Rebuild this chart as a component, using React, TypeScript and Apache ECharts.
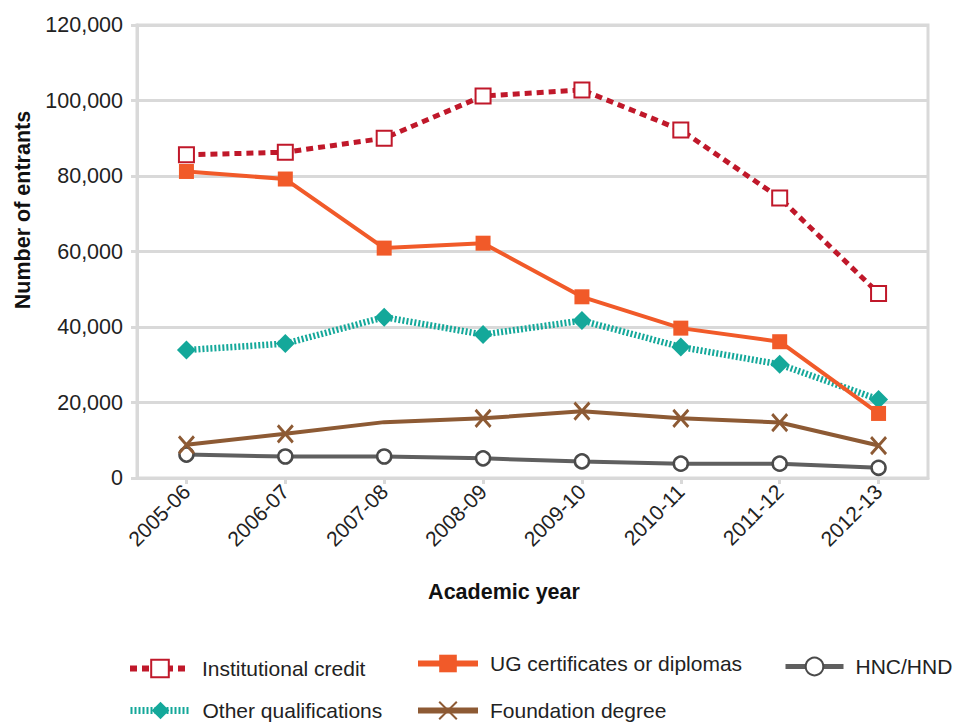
import React, { useEffect, useRef } from "react";
import * as echarts from "echarts";

const years = ["2005-06", "2006-07", "2007-08", "2008-09", "2009-10", "2010-11", "2011-12", "2012-13"];
const institutionalCredit = [85600, 86300, 90000, 101200, 102800, 92200, 74200, 48900];
const ugCertificates = [81200, 79200, 60900, 62200, 48000, 39700, 36100, 17100];
const otherQualifications = [33900, 35600, 42600, 38000, 41700, 34700, 30100, 20800];
const foundationDegree = [8800, 11700, 14800, 15800, 17700, 15800, 14700, 8600];
const hncHnd = [6200, 5700, 5700, 5200, 4400, 3800, 3800, 2700];
const yTicks = [0, 20000, 40000, 60000, 80000, 100000, 120000];

const FONT = "'Liberation Sans', Arial, Helvetica, sans-serif";
const GRID_C = "#d9d9d9";
const X_PATH = "path://M0,0L10,12M10,0L0,12";

export default function App() {
  const ref = useRef<HTMLDivElement>(null);
  useEffect(() => {
    if (!ref.current) return;
    const chart = echarts.init(ref.current, undefined, { renderer: "svg" });
    const legendText = { fontFamily: FONT, fontSize: 21, color: "#222", padding: [0, 0, 0, 7] };
    const mkLegend = (name: string, left: number, top: number, w: number, lw: number) => ({
      data: [name],
      left,
      top,
      itemWidth: w,
      itemHeight: 22,
      lineStyle: { width: lw },
      textStyle: legendText,
      selectedMode: false,
    });
    chart.setOption({
      animation: false,
      textStyle: { fontFamily: FONT },
      grid: {
        left: 137,
        right: 31,
        top: 25,
        bottom: 244,
        show: true,
        borderColor: GRID_C,
        borderWidth: 3,
      },
      legend: [
        mkLegend("Institutional credit", 122, 653, 60, 6),
        mkLegend("UG certificates or diplomas", 410, 648, 60, 6),
        mkLegend("HNC/HND", 778, 651, 58, 5),
        mkLegend("Other qualifications", 122, 695, 60, 7),
        mkLegend("Foundation degree", 410, 695, 60, 6),
      ],
      graphic: [
        {
          type: "text",
          x: 23,
          y: 210,
          rotation: Math.PI / 2,
          style: {
            text: "Number of entrants",
            font: `bold 21.5px ${FONT}`,
            fill: "#111",
            textAlign: "center",
            textVerticalAlign: "middle",
          },
        },
        {
          type: "text",
          x: 504,
          y: 592,
          style: {
            text: "Academic year",
            font: `bold 21.5px ${FONT}`,
            fill: "#111",
            textAlign: "center",
            textVerticalAlign: "middle",
          },
        },
      ],
      xAxis: {
        type: "category",
        data: years,
        boundaryGap: true,
        axisLine: { show: true, lineStyle: { color: GRID_C, width: 3 } },
        axisTick: { show: true, alignWithLabel: true, length: 6, lineStyle: { color: GRID_C, width: 3 } },
        axisLabel: { rotate: 45, fontSize: 21, color: "#222", fontFamily: FONT, margin: 10 },
        splitLine: { show: false },
      },
      yAxis: {
        type: "value",
        min: yTicks[0],
        max: yTicks[yTicks.length - 1],
        interval: 20000,
        axisLine: { show: true, lineStyle: { color: GRID_C, width: 3 } },
        axisTick: { show: true, length: 6, lineStyle: { color: GRID_C, width: 3 } },
        axisLabel: {
          fontSize: 21.5,
          color: "#222",
          fontFamily: FONT,
          margin: 14,
          formatter: (v: number) => v.toLocaleString("en-US"),
        },
        splitLine: { show: true, lineStyle: { color: GRID_C, width: 3 } },
      },
      series: [
        {
          name: "Institutional credit",
          type: "line",
          data: institutionalCredit,
          symbol: "rect",
          symbolSize: 15,
          lineStyle: { color: "#c0182a", width: 5, type: [7, 5] },
          itemStyle: { color: "#fff", borderColor: "#c0182a", borderWidth: 2 },
          z: 5,
        },
        {
          name: "UG certificates or diplomas",
          type: "line",
          data: ugCertificates,
          symbol: "rect",
          symbolSize: 15,
          lineStyle: { color: "#f15a29", width: 4 },
          itemStyle: { color: "#f15a29" },
          z: 4,
        },
        {
          name: "HNC/HND",
          type: "line",
          data: hncHnd,
          symbol: "circle",
          symbolSize: 14,
          lineStyle: { color: "#5f5f5f", width: 4 },
          itemStyle: { color: "#fff", borderColor: "#4a4a4a", borderWidth: 2.5 },
          z: 2,
        },
        {
          name: "Other qualifications",
          type: "line",
          data: otherQualifications,
          symbol: "diamond",
          symbolSize: 19,
          lineStyle: { color: "#14a89a", width: 6.5, type: [2, 2] },
          itemStyle: { color: "#14a89a" },
          z: 3,
        },
        {
          name: "Foundation degree",
          type: "line",
          data: foundationDegree,
          symbol: X_PATH,
          symbolSize: (_v: number, p: any) => (p && p.dataIndex === 2 ? 0 : [15, 17]),
          lineStyle: { color: "#8d5a34", width: 4 },
          itemStyle: { color: "#8d5a34", borderColor: "#8d5a34", borderWidth: 3 },
          z: 2,
        },
      ],
    });
    return () => chart.dispose();
  }, []);
  return <div ref={ref} style={{ width: 959, height: 722, position: "absolute", left: 0, top: 0 }} />;
}
